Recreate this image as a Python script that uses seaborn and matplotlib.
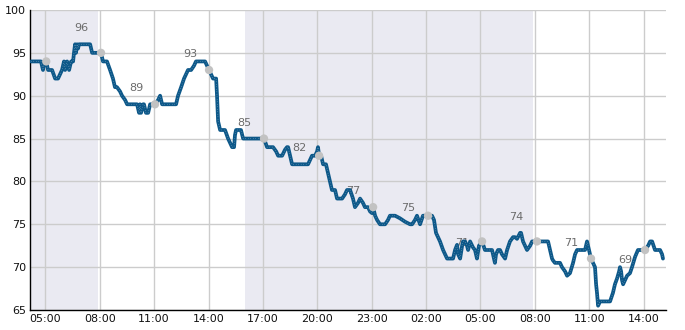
import numpy as np
import pandas as pd
import matplotlib
matplotlib.use("Agg")
import matplotlib.pyplot as plt
import matplotlib.dates as mdates
from matplotlib.ticker import MultipleLocator
import seaborn as sns

# ---- data (hours counted from 00:00 of the first day) ----
hours = [4.21, 4.49, 4.76, 4.87, 4.93, 5.04, 5.15, 5.26, 5.37, 5.54, 5.70, 5.81, 5.92,
         6.03, 6.09, 6.20, 6.31, 6.42, 6.53, 6.58, 6.64, 6.69, 6.75, 6.80, 6.86, 7.02,
         7.25, 7.47, 7.58, 7.74, 7.91, 8.07, 8.18, 8.40, 8.57, 8.73, 8.84, 8.95, 9.12,
         9.23, 9.40, 9.51, 9.78, 10.06, 10.17, 10.22, 10.28, 10.39, 10.44, 10.55, 10.67,
         10.78, 10.89, 11.05, 11.22, 11.33, 11.44, 11.60, 11.88, 12.21, 12.32, 12.49,
         12.65, 12.76, 12.87, 13.04, 13.20, 13.31, 13.53, 13.81, 14.03, 14.25, 14.42,
         14.47, 14.53, 14.64, 14.75, 14.91, 15.08, 15.19, 15.30, 15.41, 15.46, 15.52,
         15.63, 15.79, 15.91, 16.02, 16.57, 17.06, 17.23, 17.56, 17.73, 17.84, 18.06,
         18.22, 18.33, 18.39, 18.50, 18.61, 18.77, 19.05, 19.49, 19.71, 19.88, 19.99,
         20.04, 20.10, 20.21, 20.32, 20.48, 20.59, 20.70, 20.81, 20.98, 21.09, 21.37,
         21.53, 21.64, 21.81, 21.97, 22.08, 22.25, 22.36, 22.52, 22.63, 22.80, 22.91,
         23.02, 23.08, 23.19, 23.30, 23.46, 23.74, 23.90, 24.01, 24.29, 24.56, 24.84,
         25.12, 25.23, 25.39, 25.50, 25.67, 25.83, 26.11, 26.33, 26.44, 26.55, 26.66,
         26.77, 26.94, 27.05, 27.16, 27.49, 27.60, 27.71, 27.77, 27.88, 27.99, 28.04,
         28.15, 28.26, 28.32, 28.43, 28.59, 28.70, 28.81, 28.92, 29.09, 29.25, 29.42,
         29.64, 29.75, 29.80, 29.86, 29.97, 30.08, 30.19, 30.36, 30.47, 30.63, 30.80,
         30.91, 31.02, 31.19, 31.24, 31.35, 31.46, 31.57, 31.74, 31.85, 32.12, 32.29,
         32.73, 32.84, 32.95, 33.00, 33.11, 33.28, 33.39, 33.50, 33.67, 33.78, 33.94,
         34.11, 34.22, 34.33, 34.60, 34.77, 34.88, 34.99, 35.10, 35.21, 35.32, 35.38,
         35.43, 35.49, 35.60, 35.71, 35.87, 36.15, 36.31, 36.42, 36.54, 36.65, 36.70,
         36.76, 36.81, 36.87, 36.98, 37.09, 37.25, 37.36, 37.53, 37.69, 37.80, 37.97,
         38.08, 38.25, 38.36, 38.47, 38.63, 38.91, 39.02, 39.07]
values = [94, 94, 94, 93, 94, 94, 93, 93, 93, 92, 92, 92.5, 93,
          94, 93, 94, 93, 94, 94, 95, 96, 95, 96, 95.5, 96, 96,
          96, 96, 95, 95, 95, 95, 94, 94, 93, 92, 91, 91, 90.5,
          90, 89.5, 89, 89, 89, 88, 89, 88, 89, 89, 88, 88,
          89, 89, 89, 89.5, 90, 89, 89, 89, 89, 90, 91,
          92, 92.5, 93, 93, 93.5, 94, 94, 94, 93, 92, 92,
          90, 87, 86, 86, 86, 85, 84.5, 84, 84, 85.4, 86,
          86, 86, 85, 85, 85, 85, 84, 84, 83.5, 83, 83,
          83.7, 84, 84, 83, 82, 82, 82, 82, 83, 83, 83.5,
          84, 83, 83, 82, 82, 81, 80, 79, 79, 78, 78,
          78.5, 79, 79, 78, 77, 77.5, 78, 77.5, 77, 77, 76.5,
          76.3, 77, 76, 75.5, 75, 75, 75.5, 76, 76, 75.7, 75.3,
          75, 75, 75.5, 76, 75, 76, 76, 76, 75.5, 74, 73.5,
          73, 72, 71.5, 71, 71, 72, 72.6, 71.5, 71, 72.5, 73,
          73, 72.5, 72, 73, 72.3, 72, 71, 72.5, 73, 72, 72,
          72, 71, 70.5, 71.5, 72, 72, 71.5, 71, 72, 73, 73.5,
          73.5, 73.3, 74, 74, 73, 72.5, 72, 72.5, 73, 73, 73,
          73, 72, 71, 70.8, 70.5, 70.5, 70.5, 70, 69.5, 69, 69.3,
          70.5, 71.5, 72, 72, 72, 73, 72, 71, 70.5, 70, 68,
          67, 65.5, 66, 66, 66, 66, 67, 68, 68.7, 69.5, 70,
          69.5, 68.5, 68, 68.5, 69, 69.3, 70, 71.2, 72, 72, 72,
          72, 72.5, 73, 73, 72, 72, 71.5, 71]

marker_hours = [5.05, 8.07, 11.05, 14.03, 17.06, 20.10, 23.08, 26.11, 29.09, 32.12, 35.10, 38.08]
marker_values = [94, 95, 89, 93, 85, 83, 77, 76, 73, 73, 71, 72]

label_hours = [7, 10, 13, 16, 19, 22, 25, 28, 31, 34, 37]
label_values = [96, 89, 93, 85, 82, 77, 75, 71, 74, 71, 69]

shade_spans = [(4.0, 7.9), (16.0, 31.9)]

base = pd.Timestamp("2024-01-01")
to_time = lambda h: base + pd.to_timedelta(np.asarray(h, dtype=float), unit="h")

df = pd.DataFrame({"time": to_time(hours), "value": values})
mk = pd.DataFrame({"time": to_time(marker_hours), "value": marker_values})

sns.set_theme(style="white")
plt.rcParams["font.family"] = ["DejaVu Sans"]

fig = plt.figure(figsize=(6.85, 3.30), dpi=100)
ax = fig.add_axes([30.3 / 685, 20 / 330, (665.7 - 30.3) / 685, 300 / 330])

for a, b in shade_spans:
    ax.axvspan(to_time(a), to_time(b), color="#eaeaf2", zorder=0, lw=0)

lab_t = to_time(label_hours)
for t, v in zip(lab_t, label_values):
    ax.annotate(str(v), xy=(t, v), xytext=(0, 16), textcoords="offset pixels",
                ha="center", va="center", fontsize=8, color="#6b6b6b", zorder=2)

sns.lineplot(data=df, x="time", y="value", ax=ax, color="#0d5889", lw=2.7,
             zorder=3, legend=False)
ax.plot(df["time"], df["value"], color="white", lw=0.5, ls=(0, (0.6, 3)), alpha=0.7, zorder=4)
sns.scatterplot(data=mk, x="time", y="value", ax=ax, color="#c2c2c2", s=36,
                edgecolor="none", zorder=5, legend=False)

ax.set_xlim(to_time(4.17), to_time(39.22))
ax.set_ylim(65, 100)
ax.yaxis.set_major_locator(MultipleLocator(5))
ax.yaxis.set_minor_locator(MultipleLocator(1))
ax.xaxis.set_major_locator(mdates.HourLocator(byhour=[2, 5, 8, 11, 14, 17, 20, 23]))
ax.xaxis.set_major_formatter(mdates.DateFormatter("%H:%M"))
ax.set_xlabel("")
ax.set_ylabel("")

ax.grid(True, which="major", color="#cccccc", lw=1.0, zorder=1)
ax.set_axisbelow(True)
for s in ("top", "right"):
    ax.spines[s].set_visible(False)
for s in ("left", "bottom"):
    ax.spines[s].set_color("black")
    ax.spines[s].set_linewidth(1.0)
ax.tick_params(axis="both", which="major", direction="in", length=5, width=1,
               color="black", labelsize=8, labelcolor="#111111", pad=3)
ax.tick_params(axis="y", which="minor", direction="in", length=3, width=1, color="black")
ax.tick_params(axis="x", which="minor", length=0)
ax.set_facecolor("white")

fig.savefig("out.png", dpi=100)
